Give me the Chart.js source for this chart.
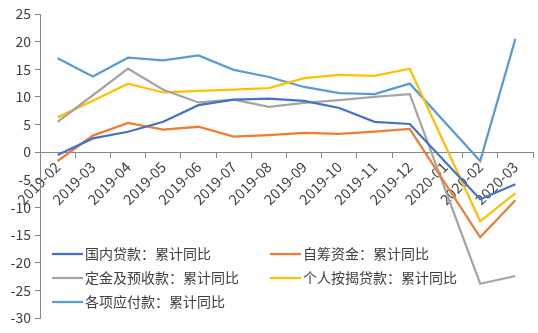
<!DOCTYPE html>
<html>
<head>
<meta charset="utf-8">
<script src="https://cdn.jsdelivr.net/npm/chart.js@4/dist/chart.umd.min.js"></script>
<style>
  html, body { margin: 0; padding: 0; background: #fff; }
  #wrap { width: 538px; height: 333px; position: relative; }
</style>
</head>
<body>
<div id="wrap"><canvas id="myChart" width="538" height="333"></canvas></div>
<script>
const months = ['2019-02', '2019-03', '2019-04', '2019-05', '2019-06', '2019-07', '2019-08',
  '2019-09', '2019-10', '2019-11', '2019-12', '2020-01', '2020-02', '2020-03'];

// 2020-01 has no data point, the lines span straight across it
const domesticLoans = [-0.5, 2.5, 3.7, 5.5, 8.5, 9.5, 9.7, 9.3, 8.0, 5.5, 5.1, null, -8.5, -5.8];
const selfRaised = [-1.6, 3.0, 5.3, 4.1, 4.6, 2.8, 3.1, 3.5, 3.3, 3.7, 4.2, null, -15.4, -8.7];
const deposits = [5.5, 10.3, 15.1, 11.3, 9.0, 9.5, 8.2, 8.9, 9.4, 10.0, 10.5, null, -23.8, -22.4];
const mortgages = [6.3, 9.3, 12.4, 10.8, 11.1, 11.3, 11.6, 13.4, 14.0, 13.8, 15.1, null, -12.5, -7.4];
const payables = [17.0, 13.7, 17.1, 16.6, 17.5, 14.9, 13.6, 11.8, 10.7, 10.5, 12.4, null, -1.6, 20.5];

const seriesNames = ['国内贷款：累计同比', '自筹资金：累计同比', '定金及预收款：累计同比',
  '个人按揭贷款：累计同比', '各项应付款：累计同比'];
const seriesColors = ['#4472C4', '#ED7D31', '#A5A5A5', '#FFC000', '#5B9BD5'];
const seriesValues = [domesticLoans, selfRaised, deposits, mortgages, payables];

const FONT = '"Noto Sans CJK SC", "Noto Sans", sans-serif';

const datasets = seriesValues.map((vals, i) => ({
  label: seriesNames[i],
  data: vals,
  borderColor: seriesColors[i],
  backgroundColor: seriesColors[i],
  borderWidth: 2.25,
  pointRadius: 0,
  tension: 0,
  spanGaps: true,
  fill: false
}));

// legend drawn inside the plot, two columns like the original
const insideLegend = {
  id: 'insideLegend',
  afterDraw(chart) {
    const ctx = chart.ctx;
    const cols = [52, 270];
    const rows = [254, 278, 302];
    ctx.save();
    ctx.font = '14px ' + FONT;
    ctx.textBaseline = 'middle';
    ctx.textAlign = 'left';
    chart.data.datasets.forEach((ds, i) => {
      const x = cols[i % 2];
      const y = rows[Math.floor(i / 2)];
      ctx.strokeStyle = ds.borderColor;
      ctx.lineWidth = 2.25;
      ctx.beginPath();
      ctx.moveTo(x, y);
      ctx.lineTo(x + 31, y);
      ctx.stroke();
      ctx.fillStyle = '#404040';
      ctx.fillText(ds.label, x + 33, y);
    });
    ctx.restore();
  }
};

const ctx = document.getElementById('myChart').getContext('2d');
const chart = new Chart(ctx, {
  type: 'line',
  data: { labels: months, datasets: datasets },
  options: {
    responsive: false,
    animation: false,
    layout: { padding: { top: 14, right: 5, bottom: 15, left: 0 } },
    plugins: {
      legend: { display: false },
      tooltip: { enabled: false }
    },
    scales: {
      x: {
        position: { y: 0 },
        offset: true,
        grid: { display: true, drawOnChartArea: false, offset: true, tickLength: 5, color: '#868686' },
        border: { color: '#868686', width: 1 },
        ticks: {
          color: '#404040',
          font: { size: 14.5, family: FONT },
          maxRotation: 45,
          minRotation: 45,
          autoSkip: false,
          padding: 1
        }
      },
      y: {
        min: -30,
        max: 25,
        afterFit(scale) { scale.width = 40; },
        grid: { display: true, drawOnChartArea: false, tickLength: 5, color: '#868686' },
        border: { color: '#868686', width: 1 },
        ticks: {
          stepSize: 5,
          color: '#404040',
          font: { size: 14, family: FONT },
          padding: 4
        }
      }
    }
  },
  plugins: [insideLegend]
});
</script>
</body>
</html>
